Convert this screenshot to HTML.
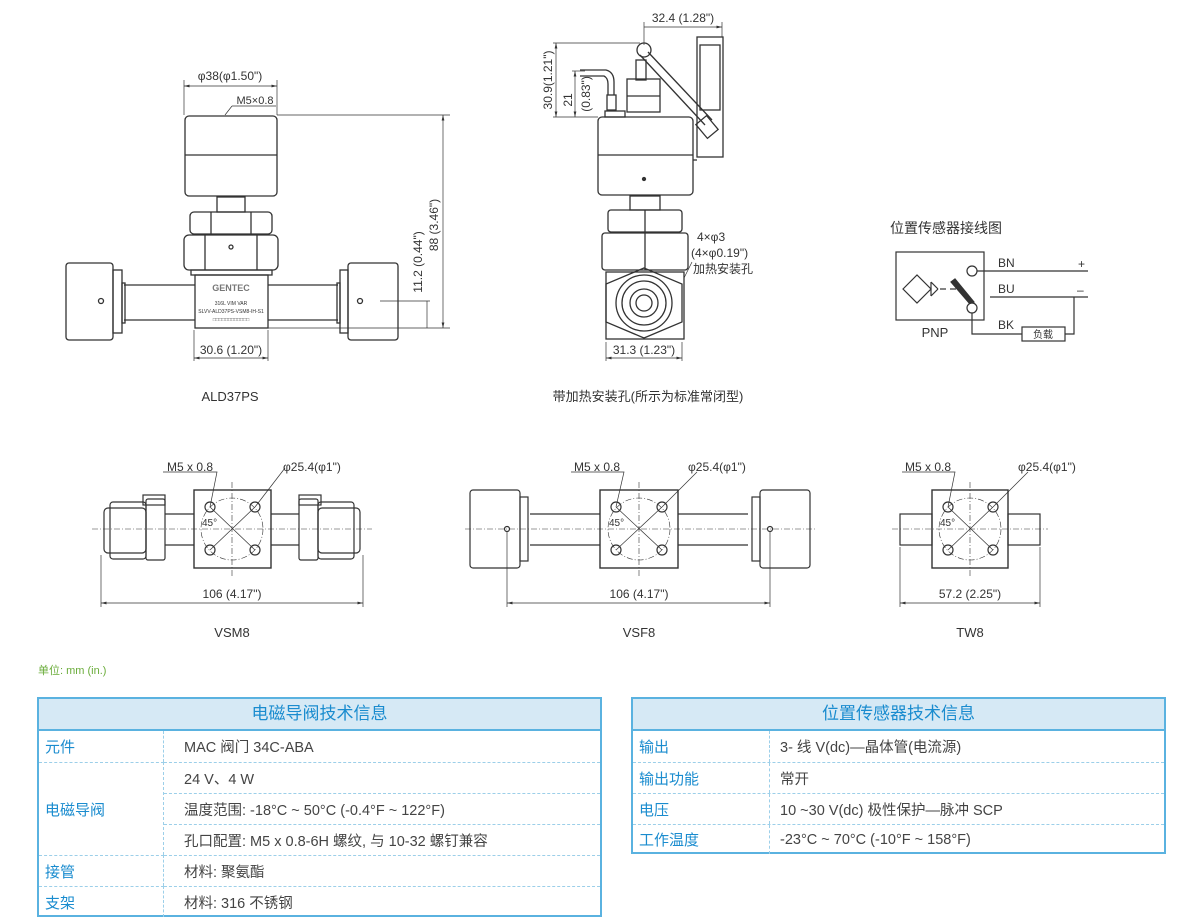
<!DOCTYPE html>
<html><head><meta charset="utf-8">
<style>
html,body{margin:0;padding:0;background:#fff;}
body{width:1200px;height:919px;position:relative;overflow:hidden;font-family:"Liberation Sans","Noto Sans CJK SC",sans-serif;}
svg{position:absolute;left:0;top:0;}
svg text{font-family:"Liberation Sans","Noto Sans CJK SC",sans-serif;fill:#333;}
svg text.green{fill:#6aac3a;}
.tb{position:absolute;border:2px solid #5ab2e0;box-sizing:border-box;background:#fff;}
.tb .h{height:30px;background:#d6e9f5;border-bottom:2px solid #5ab2e0;text-align:center;line-height:30px;color:#1a8ccf;font-size:17px;}
.row{position:relative;border-top:1px dashed #9ccfe9;box-sizing:border-box;font-size:14.5px;color:#444;}
.row:first-of-type{border-top:none;}
.lab{position:absolute;left:0;top:0;bottom:0;color:#1a8ccf;padding-left:6px;display:flex;align-items:center;border-right:1px dashed #9ccfe9;box-sizing:border-box;font-size:15px;}
.val{position:absolute;top:0;bottom:0;display:flex;align-items:center;}
</style></head><body>
<svg width="1200" height="919" viewBox="0 0 1200 919" fill="none" stroke="#333" stroke-width="1">
<defs><marker id="ar" markerWidth="8" markerHeight="6" refX="8" refY="3" orient="auto-start-reverse"><path d="M0 1 L8 3 L0 5 Z" fill="#333" stroke="none"/></marker></defs>
<!-- ALD37PS -->
<g stroke-width="1.3">
<line x1="184" y1="80" x2="184" y2="115" stroke-width="0.7"/><line x1="277" y1="80" x2="277" y2="115" stroke-width="0.7"/>
<line x1="184" y1="86" x2="277" y2="86" stroke-width="0.7" marker-start="url(#ar)" marker-end="url(#ar)"/>
<rect x="185" y="116" width="92" height="80" rx="4"/>
<line x1="185" y1="155" x2="277" y2="155"/>
<rect x="217" y="197" width="28" height="15"/>
<rect x="190" y="212" width="82" height="22" rx="4"/>
<line x1="211" y1="212" x2="211" y2="234"/><line x1="251" y1="212" x2="251" y2="234"/>
<rect x="184" y="235" width="94" height="35" rx="5"/>
<line x1="205" y1="235" x2="205" y2="270"/><line x1="257" y1="235" x2="257" y2="270"/>
<circle cx="231" cy="247" r="2"/>
<rect x="191" y="270" width="81" height="5"/>
<rect x="195" y="275" width="73" height="53"/>
<line x1="124" y1="285" x2="195" y2="285"/><line x1="124" y1="320" x2="195" y2="320"/>
<line x1="268" y1="285" x2="338" y2="285"/><line x1="268" y1="320" x2="338" y2="320"/>
<rect x="66" y="263" width="47" height="77" rx="3"/>
<rect x="113" y="270" width="9" height="63"/><rect x="122" y="283" width="3" height="40"/>
<circle cx="101" cy="301" r="2.5"/>
<rect x="348" y="263" width="50" height="77" rx="3"/>
<rect x="340" y="270" width="8" height="63"/><rect x="337" y="283" width="3" height="40"/>
<circle cx="360" cy="301" r="2.5"/>
</g>
<g stroke-width="0.7">
<line x1="277" y1="115" x2="450" y2="115"/><line x1="268" y1="328" x2="450" y2="328"/>
<line x1="443" y1="115" x2="443" y2="328" marker-start="url(#ar)" marker-end="url(#ar)"/>
<line x1="380" y1="301" x2="430" y2="301"/><line x1="427" y1="301" x2="427" y2="328"/>
<line x1="194" y1="330" x2="194" y2="361"/><line x1="268" y1="330" x2="268" y2="361"/>
<line x1="194" y1="358" x2="268" y2="358" marker-start="url(#ar)" marker-end="url(#ar)"/>
<line x1="225" y1="115" x2="232" y2="106"/><line x1="232" y1="106" x2="276" y2="106"/>
</g>
<text x="230" y="80" font-size="12" text-anchor="middle" stroke="none">φ38(φ1.50")</text>
<text x="255" y="104" font-size="11" text-anchor="middle" stroke="none">M5×0.8</text>
<text x="231" y="291" font-size="9" text-anchor="middle" stroke="none" font-weight="bold" style="fill:#777">GENTEC</text>
<text x="231" y="305" font-size="5" text-anchor="middle" stroke="none">316L VIM VAR</text>
<text x="231" y="313" font-size="5" text-anchor="middle" stroke="none">SLVV-ALD37PS-VSM8-IH-S1</text>
<text x="231" y="321" font-size="5" text-anchor="middle" stroke="none">□□□□□□□□□□□□</text>
<text transform="translate(438,225) rotate(-90)" font-size="12" text-anchor="middle" stroke="none">88 (3.46")</text>
<text transform="translate(422,262) rotate(-90)" font-size="12" text-anchor="middle" stroke="none">11.2 (0.44")</text>
<text x="231" y="354" font-size="12" text-anchor="middle" stroke="none">30.6 (1.20")</text>
<text x="230" y="401" font-size="13" text-anchor="middle" stroke="none">ALD37PS</text>

<!-- middle view -->
<g stroke-width="1.3">
<rect x="598" y="117" width="95" height="78" rx="4"/>
<line x1="598" y1="155" x2="693" y2="155"/><circle cx="644" cy="179" r="1.5" fill="#333"/>
<rect x="630" y="196" width="30" height="14"/>
<rect x="608" y="210" width="74" height="22" rx="3"/><line x1="645" y1="210" x2="645" y2="232"/>
<rect x="602" y="233" width="86" height="37" rx="3"/><line x1="645" y1="233" x2="645" y2="270"/>
<rect x="606" y="272" width="78" height="67"/>
<polygon points="644,268 682,284 682,322 644,338 606,322 606,284"/>
<circle cx="644" cy="303" r="28"/><circle cx="644" cy="303" r="22"/><circle cx="644" cy="303" r="14"/><circle cx="644" cy="303" r="8"/>
<rect x="627" y="79" width="33" height="33"/><line x1="627" y1="96" x2="660" y2="96"/>
<rect x="636" y="60" width="10" height="20"/>
<circle cx="644" cy="50" r="7"/>
<line x1="640" y1="55" x2="705" y2="125"/><line x1="648" y1="52" x2="712" y2="120"/>
<rect x="700" y="118" width="14" height="18" transform="rotate(-40 707 127)"/>
<rect x="697" y="37" width="26" height="120"/><rect x="700" y="45" width="20" height="65"/>
<line x1="693" y1="160" x2="697" y2="160"/>
<path d="M580 70 L606 70 Q614 72 614 82 L614 95 M580 76 L604 76 Q608 78 608 84 L608 95"/>
<rect x="607" y="95" width="9" height="15"/>
<rect x="605" y="111" width="20" height="6"/>
</g>
<g stroke-width="0.7">
<line x1="644" y1="22" x2="644" y2="45"/><line x1="722" y1="22" x2="722" y2="37"/>
<line x1="644" y1="27" x2="722" y2="27" marker-end="url(#ar)"/>
<line x1="553" y1="43" x2="640" y2="43"/><line x1="556" y1="43" x2="556" y2="117" marker-start="url(#ar)" marker-end="url(#ar)"/>
<line x1="572" y1="71" x2="585" y2="71"/><line x1="575" y1="71" x2="575" y2="117" marker-start="url(#ar)" marker-end="url(#ar)"/>
<line x1="553" y1="117" x2="598" y2="117"/>
<line x1="606" y1="342" x2="606" y2="361"/><line x1="682" y1="342" x2="682" y2="361"/>
<line x1="606" y1="358" x2="682" y2="358" marker-start="url(#ar)" marker-end="url(#ar)"/>
<line x1="684" y1="278" x2="692" y2="262"/>
</g>
<text x="683" y="22" font-size="12" text-anchor="middle" stroke="none">32.4 (1.28")</text>
<text transform="translate(552,80) rotate(-90)" font-size="12" text-anchor="middle" stroke="none">30.9(1.21")</text>
<text transform="translate(572,100) rotate(-90)" font-size="12" text-anchor="middle" stroke="none">21</text>
<text transform="translate(590,94) rotate(-90)" font-size="12" text-anchor="middle" stroke="none">(0.83")</text>
<text x="697" y="241" font-size="12" stroke="none">4×φ3</text>
<text x="691" y="257" font-size="12" stroke="none">(4×φ0.19")</text>
<text x="693" y="273" font-size="12" stroke="none">加热安装孔</text>
<text x="644" y="354" font-size="12" text-anchor="middle" stroke="none">31.3 (1.23")</text>
<text x="648" y="401" font-size="13" text-anchor="middle" stroke="none">带加热安装孔(所示为标准常闭型)</text>

<!-- PNP -->
<text x="890" y="233" font-size="14" stroke="none">位置传感器接线图</text>
<g stroke-width="1.2">
<rect x="896" y="252" width="88" height="68"/>
<polygon points="903,289 917,275 931,289 917,303"/>
<line x1="931" y1="282" x2="931" y2="296"/><line x1="931" y1="282" x2="938" y2="289"/><line x1="931" y1="296" x2="938" y2="289"/>
<line x1="940" y1="289" x2="946" y2="289"/><line x1="950" y1="289" x2="956" y2="289"/>
<polygon points="951,282 955,279 974,302 970,304" fill="#333"/>
<circle cx="972" cy="271" r="5" fill="#fff"/><circle cx="972" cy="308" r="5" fill="#fff"/>
<line x1="977" y1="271" x2="1088" y2="271"/>
<line x1="990" y1="297" x2="1088" y2="297"/>
<path d="M972 313 L972 334 L1022 334"/><rect x="1022" y="327" width="43" height="14"/>
<path d="M1065 334 L1074 334 L1074 297"/>
</g>
<text x="998" y="267" font-size="12" stroke="none">BN</text>
<text x="998" y="293" font-size="12" stroke="none">BU</text>
<text x="998" y="329" font-size="12" stroke="none">BK</text>
<text x="1078" y="268" font-size="12" stroke="none">+</text>
<text x="1077" y="294" font-size="12" stroke="none">–</text>
<text x="1043" y="338" font-size="10" text-anchor="middle" stroke="none">负载</text>
<text x="935" y="337" font-size="13" text-anchor="middle" stroke="none">PNP</text>

<!-- Bottom row: VSM8 -->
<g stroke-width="1.2">
<line x1="165" y1="514" x2="194" y2="514"/><line x1="165" y1="545" x2="194" y2="545"/>
<line x1="271" y1="514" x2="299" y2="514"/><line x1="271" y1="545" x2="299" y2="545"/>
<rect x="104" y="508" width="42" height="45" rx="4"/><rect x="110" y="502" width="36" height="57" rx="3"/>
<rect x="146" y="499" width="19" height="61" rx="2"/><rect x="143" y="495" width="22" height="10"/>
<rect x="318" y="508" width="42" height="45" rx="4"/><rect x="318" y="502" width="36" height="57" rx="3"/>
<rect x="299" y="499" width="19" height="61" rx="2"/><rect x="299" y="495" width="22" height="10"/>
</g>
<!-- VSF8 -->
<g stroke-width="1.2">
<line x1="530" y1="514" x2="600" y2="514"/><line x1="530" y1="545" x2="600" y2="545"/>
<line x1="678" y1="514" x2="748" y2="514"/><line x1="678" y1="545" x2="748" y2="545"/>
<rect x="470" y="490" width="50" height="78" rx="3"/><rect x="520" y="497" width="8" height="64"/>
<circle cx="507" cy="529" r="2.5"/>
<rect x="760" y="490" width="50" height="78" rx="3"/><rect x="752" y="497" width="8" height="64"/>
<circle cx="770" cy="529" r="2.5"/>
</g>
<!-- TW8 -->
<g stroke-width="1.2">
<rect x="900" y="514" width="32" height="31"/><rect x="1008" y="514" width="32" height="31"/>
</g>
<!-- squares -->
<g stroke-width="1.4">
<rect x="194" y="490" width="77" height="78"/>
<rect x="600" y="490" width="78" height="78"/>
<rect x="932" y="490" width="76" height="78"/>
</g>
<g stroke-width="1.2">
<circle cx="210" cy="507" r="5"/><circle cx="255" cy="507" r="5"/><circle cx="210" cy="550" r="5"/><circle cx="255" cy="550" r="5"/>
<circle cx="616" cy="507" r="5"/><circle cx="662" cy="507" r="5"/><circle cx="616" cy="550" r="5"/><circle cx="662" cy="550" r="5"/>
<circle cx="948" cy="507" r="5"/><circle cx="993" cy="507" r="5"/><circle cx="948" cy="550" r="5"/><circle cx="993" cy="550" r="5"/>
</g>
<g stroke-width="0.6" stroke-dasharray="6,2,1,2">
<circle cx="232" cy="529" r="31"/><circle cx="639" cy="529" r="31"/><circle cx="970" cy="529" r="31"/>
<line x1="92" y1="529" x2="372" y2="529"/><line x1="232" y1="482" x2="232" y2="578"/>
<line x1="465" y1="529" x2="815" y2="529"/><line x1="639" y1="482" x2="639" y2="578"/>
<line x1="892" y1="529" x2="1048" y2="529"/><line x1="970" y1="482" x2="970" y2="578"/>
</g>
<g stroke-width="0.7">
<line x1="210" y1="550" x2="255" y2="507"/><line x1="210" y1="507" x2="255" y2="550"/>
<line x1="616" y1="550" x2="662" y2="507"/><line x1="616" y1="507" x2="662" y2="550"/>
<line x1="948" y1="550" x2="993" y2="507"/><line x1="948" y1="507" x2="993" y2="550"/>
<path d="M163 472 L217 472 L210 507"/><path d="M255 507 L285 468"/>
<path d="M571 472 L624 472 L616 507"/><path d="M697 472 L662 507"/>
<path d="M902 472 L955 472 L948 507"/><path d="M1028 472 L993 507"/>
<line x1="101" y1="555" x2="101" y2="607"/><line x1="363" y1="555" x2="363" y2="607"/><line x1="101" y1="603" x2="363" y2="603" marker-start="url(#ar)" marker-end="url(#ar)"/>
<line x1="507" y1="532" x2="507" y2="607"/><line x1="770" y1="532" x2="770" y2="607"/><line x1="507" y1="603" x2="770" y2="603" marker-start="url(#ar)" marker-end="url(#ar)"/>
<line x1="900" y1="547" x2="900" y2="607"/><line x1="1040" y1="547" x2="1040" y2="607"/><line x1="900" y1="603" x2="1040" y2="603" marker-start="url(#ar)" marker-end="url(#ar)"/>
</g>
<g font-size="12" stroke="none">
<text x="190" y="471" text-anchor="middle">M5 x 0.8</text><text x="283" y="471">φ25.4(φ1")</text>
<text x="597" y="471" text-anchor="middle">M5 x 0.8</text><text x="688" y="471">φ25.4(φ1")</text>
<text x="928" y="471" text-anchor="middle">M5 x 0.8</text><text x="1018" y="471">φ25.4(φ1")</text>
<text x="202" y="526" font-size="10">45°</text><text x="609" y="526" font-size="10">45°</text><text x="940" y="526" font-size="10">45°</text>
<text x="232" y="598" text-anchor="middle">106 (4.17")</text>
<text x="639" y="598" text-anchor="middle">106 (4.17")</text>
<text x="970" y="598" text-anchor="middle">57.2 (2.25")</text>
<text x="232" y="637" text-anchor="middle" font-size="13">VSM8</text>
<text x="639" y="637" text-anchor="middle" font-size="13">VSF8</text>
<text x="970" y="637" text-anchor="middle" font-size="13">TW8</text>
<text x="38" y="674" font-size="11" class="green">单位: mm (in.)</text>
</g>
</svg>

<div class="tb" style="left:37px;top:697px;width:565px;height:220px;">
<div class="h">电磁导阀技术信息</div>
<div style="position:relative;height:186px;">
<div class="lab" style="top:0;height:31px;width:125px;">元件</div>
<div class="lab" style="top:31px;height:93px;width:125px;border-top:1px dashed #9ccfe9;">电磁导阀</div>
<div class="lab" style="top:124px;height:31px;width:125px;border-top:1px dashed #9ccfe9;">接管</div>
<div class="lab" style="top:155px;height:31px;width:125px;border-top:1px dashed #9ccfe9;">支架</div>
<div style="position:absolute;left:125px;right:0;top:0;">
<div class="row" style="height:31px;"><div class="val" style="left:20px;">MAC 阀门 34C-ABA</div></div>
<div class="row" style="height:31px;"><div class="val" style="left:20px;">24 V、4 W</div></div>
<div class="row" style="height:31px;"><div class="val" style="left:20px;">温度范围: -18°C ~ 50°C (-0.4°F ~ 122°F)</div></div>
<div class="row" style="height:31px;"><div class="val" style="left:20px;">孔口配置: M5 x 0.8-6H 螺纹, 与 10-32 螺钉兼容</div></div>
<div class="row" style="height:31px;"><div class="val" style="left:20px;">材料: 聚氨酯</div></div>
<div class="row" style="height:31px;"><div class="val" style="left:20px;">材料: 316 不锈钢</div></div>
</div>
</div>
</div>

<div class="tb" style="left:631px;top:697px;width:535px;height:157px;">
<div class="h">位置传感器技术信息</div>
<div style="position:relative;">
<div class="row" style="height:31px;"><div class="lab" style="width:137px;">输出</div><div class="val" style="left:147px;">3- 线 V(dc)—晶体管(电流源)</div></div>
<div class="row" style="height:31px;"><div class="lab" style="width:137px;">输出功能</div><div class="val" style="left:147px;">常开</div></div>
<div class="row" style="height:31px;"><div class="lab" style="width:137px;">电压</div><div class="val" style="left:147px;">10 ~30 V(dc) 极性保护—脉冲 SCP</div></div>
<div class="row" style="height:30px;"><div class="lab" style="width:137px;">工作温度</div><div class="val" style="left:147px;">-23°C ~ 70°C (-10°F ~ 158°F)</div></div>
</div>
</div>
</body></html>
